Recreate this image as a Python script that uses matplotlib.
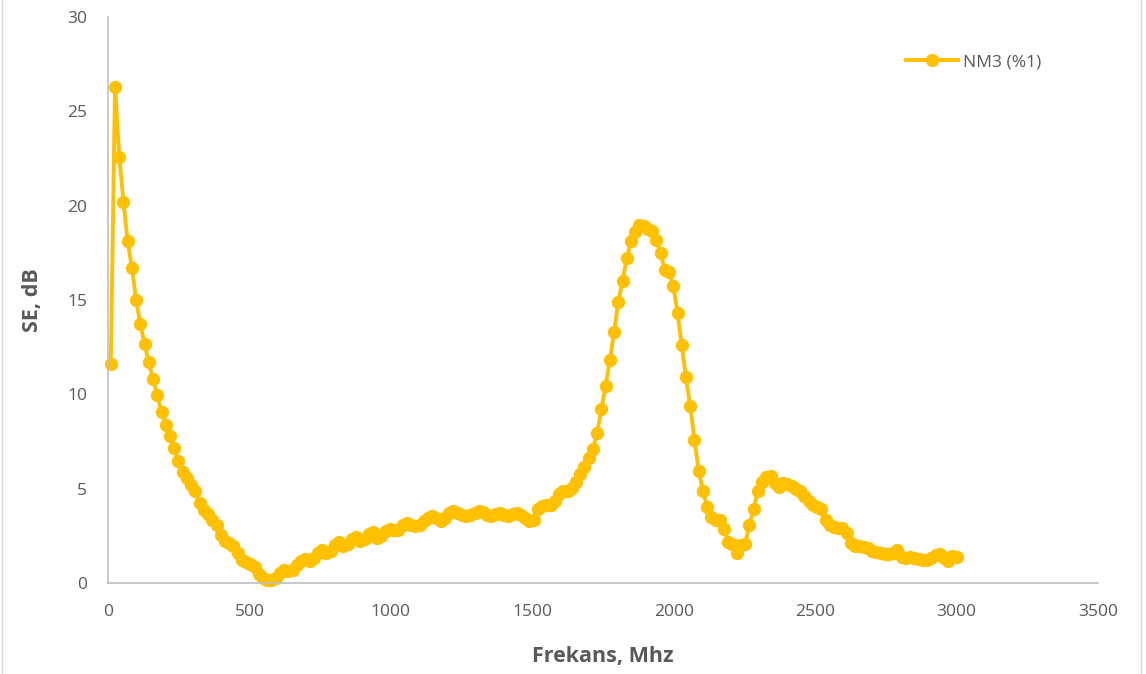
import matplotlib.pyplot as plt
from matplotlib.lines import Line2D
import numpy as np

## Measured data : NM3 (%1) shielding effectiveness
# frequency sweep, 201 points from 10 to 3000 MHz
freq = np.linspace(10, 3000, 201)
se_nm3 = [
    11.6, 26.3, 22.6, 20.2, 18.1, 16.7, 15.0, 13.7, 12.65, 11.7,
    10.8, 9.95, 9.05, 8.35, 7.8, 7.15, 6.45, 5.9, 5.55, 5.2,
    4.85, 4.25, 3.85, 3.65, 3.35, 3.05, 2.55, 2.25, 2.1, 1.95,
    1.6, 1.2, 1.1, 1.0, 0.85, 0.5, 0.25, 0.15, 0.15, 0.25,
    0.55, 0.7, 0.65, 0.7, 0.95, 1.15, 1.25, 1.15, 1.35, 1.6,
    1.75, 1.6, 1.7, 2.0, 2.15, 1.95, 2.05, 2.35, 2.45, 2.2,
    2.35, 2.6, 2.7, 2.4, 2.5, 2.75, 2.85, 2.8, 2.8, 3.05,
    3.2, 3.05, 3.0, 3.1, 3.3, 3.45, 3.55, 3.45, 3.3, 3.45,
    3.7, 3.8, 3.7, 3.6, 3.55, 3.6, 3.7, 3.8, 3.75, 3.6,
    3.55, 3.65, 3.7, 3.6, 3.55, 3.65, 3.7, 3.6, 3.45, 3.3,
    3.35, 3.9, 4.1, 4.15, 4.15, 4.35, 4.7, 4.85, 4.9, 5.05,
    5.35, 5.75, 6.15, 6.6, 7.1, 7.95, 9.2, 10.45, 11.8, 13.3,
    14.9, 16.0, 17.2, 18.1, 18.6, 18.95, 18.9, 18.75, 18.65, 18.15,
    17.5, 16.6, 16.5, 15.75, 14.3, 12.6, 10.9, 9.4, 7.6, 5.95,
    4.9, 4.05, 3.5, 3.35, 3.35, 2.85, 2.15, 2.05, 1.6, 2.0,
    2.05, 3.1, 3.9, 4.9, 5.35, 5.6, 5.65, 5.3, 5.1, 5.3,
    5.25, 5.15, 5.0, 4.85, 4.6, 4.35, 4.15, 4.05, 3.9, 3.35,
    3.1, 2.95, 2.9, 2.9, 2.65, 2.1, 1.95, 1.95, 1.9, 1.85,
    1.7, 1.65, 1.6, 1.55, 1.55, 1.6, 1.75, 1.4, 1.35, 1.4,
    1.35, 1.25, 1.2, 1.2, 1.35, 1.5, 1.55, 1.35, 1.15, 1.45,
    1.4,
]

x_ticks = [0, 500, 1000, 1500, 2000, 2500, 3000, 3500]
y_ticks = [0, 5, 10, 15, 20, 25, 30]

text_col = '#595959'
gold = '#FFC000'
plt.rcParams['font.family'] = ['Open Sans', 'DejaVu Sans']

fig = plt.figure(figsize=(11.46, 6.74), dpi=100)
ax = fig.add_axes([0.0942, 0.135, 0.864, 0.84])

ax.plot(freq, se_nm3, color=gold, lw=2.8, marker='o', ms=9.6,
        markeredgewidth=0, label='NM3 (%1)', clip_on=False)

ax.set_xlim(0, 3500)
ax.set_ylim(0, 30)
ax.set_xticks(x_ticks)
ax.set_yticks(y_ticks)
ax.tick_params(length=0, labelsize=12.5, colors=text_col, pad=15)

for s in ['top', 'right']:
    ax.spines[s].set_visible(False)
for s in ['left', 'bottom']:
    ax.spines[s].set_color('#BFBFBF')
    ax.spines[s].set_linewidth(1.2)

ax.set_xlabel('Frekans, Mhz', fontsize=15.5, fontweight='bold', color=text_col)
ax.set_ylabel('SE, dB', fontsize=15.5, fontweight='bold', color=text_col)
ax.xaxis.set_label_coords(0.5, -0.112)
ax.yaxis.set_label_coords(-0.066, 0.5)

ax.legend(loc='center left', bbox_to_anchor=(0.79, 0.92), frameon=False,
          fontsize=12.5, labelcolor=text_col, handlelength=3.0,
          handletextpad=0.3, markerscale=1.0)

# chart area border
fig.add_artist(Line2D([0.002, 0.002], [0, 1], color='#D9D9D9', lw=1))
fig.add_artist(Line2D([0.996, 0.996], [0, 1], color='#D9D9D9', lw=1))

fig.savefig('out.png', dpi=100)
